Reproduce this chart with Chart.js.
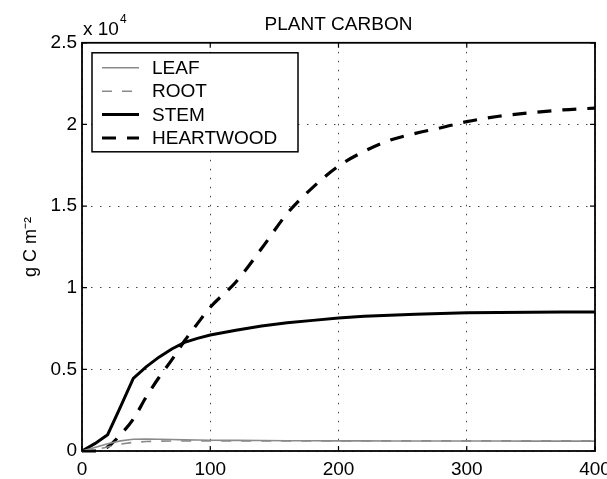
<!DOCTYPE html>
<html>
<head>
<meta charset="utf-8">
<script src="https://cdn.jsdelivr.net/npm/chart.js@4.4.1/dist/chart.umd.min.js"></script>
<style>
  html, body { margin: 0; padding: 0; background: #fff; }
  #wrap { width: 607px; height: 479px; }
</style>
</head>
<body>
<div id="wrap"><canvas id="c" width="607" height="479"></canvas></div>
<script>
// Simulation year
const years = [0, 10, 20, 30, 40, 50, 60, 70, 80, 90, 100, 120, 140, 160, 180, 200, 220, 240, 260, 280, 300, 325, 350, 375, 400];

// Carbon pools, g C m^-2
const leaf      = [0, 220, 450, 620, 720, 730, 720, 700, 680, 670, 660, 650, 640, 630, 625, 620, 620, 615, 615, 610, 610, 610, 605, 605, 605];
const root      = [0, 80, 250, 420, 530, 580, 600, 610, 615, 620, 620, 620, 620, 620, 620, 620, 620, 620, 620, 620, 620, 620, 620, 620, 620];
const stem      = [0, 450, 1000, 2700, 4450, 5150, 5750, 6250, 6650, 6900, 7100, 7400, 7650, 7850, 8000, 8150, 8250, 8320, 8380, 8420, 8460, 8480, 8500, 8510, 8520];
const heartwood = [0, 0, 250, 1000, 1950, 3300, 4500, 5580, 6750, 7800, 8800, 10350, 12400, 14550, 16150, 17450, 18350, 19030, 19450, 19800, 20170, 20500, 20720, 20890, 21000];

const seriesNames = ['LEAF', 'ROOT', 'STEM', 'HEARTWOOD'];
const xTicks = [0, 100, 200, 300, 400];
const yTicks = [0, 5000, 10000, 15000, 20000, 25000];

const FONT = '"Liberation Sans", Arial, Helvetica, sans-serif';

function series(values) {
  return years.map((yr, i) => ({ x: yr, y: values[i] }));
}

const datasets = [
  { label: seriesNames[0], data: series(leaf),      borderColor: '#8a8a8a', borderWidth: 1.6, borderDash: [] },
  { label: seriesNames[1], data: series(root),      borderColor: '#8a8a8a', borderWidth: 1.6, borderDash: [10, 10] },
  { label: seriesNames[2], data: series(stem),      borderColor: '#000',    borderWidth: 3,   borderDash: [] },
  { label: seriesNames[3], data: series(heartwood), borderColor: '#000',    borderWidth: 3.2, borderDash: [14, 11], cubicInterpolationMode: 'monotone' }
].map(d => Object.assign({ pointRadius: 0, tension: 0, fill: false, clip: 3 }, d));

// Box frame, inward ticks, exponent note and boxed legend
const framePlugin = {
  id: 'framePlugin',
  afterDatasetsDraw(chart) {
    const { ctx, chartArea: a, scales } = chart;
    const sx = scales.x, sy = scales.y;
    ctx.save();

    ctx.strokeStyle = '#000';
    ctx.lineWidth = 1.2;
    ctx.setLineDash([]);
    const t = 5;
    ctx.beginPath();
    xTicks.forEach(v => {
      const px = sx.getPixelForValue(v);
      ctx.moveTo(px, a.bottom); ctx.lineTo(px, a.bottom - t);
      ctx.moveTo(px, a.top);    ctx.lineTo(px, a.top + t);
    });
    yTicks.forEach(v => {
      const py = sy.getPixelForValue(v);
      ctx.moveTo(a.left, py);  ctx.lineTo(a.left + t, py);
      ctx.moveTo(a.right, py); ctx.lineTo(a.right - t, py);
    });
    ctx.stroke();

    ctx.lineWidth = 1.8;
    ctx.strokeRect(a.left, a.top, a.right - a.left, a.bottom - a.top);

    // axis multiplier
    ctx.fillStyle = '#000';
    ctx.textBaseline = 'alphabetic';
    ctx.textAlign = 'left';
    ctx.font = '19px ' + FONT;
    ctx.fillText('x 10', a.left + 1, a.top - 8);
    const w = ctx.measureText('x 10').width;
    ctx.font = '12px ' + FONT;
    ctx.fillText('4', a.left + 2 + w, a.top - 20);

    // legend
    const lx = a.left + 10, ly = a.top + 10, lw = 206, lh = 99;
    ctx.fillStyle = '#fff';
    ctx.fillRect(lx, ly, lw, lh);
    ctx.lineWidth = 1.5;
    ctx.strokeStyle = '#000';
    ctx.strokeRect(lx, ly, lw, lh);
    ctx.font = '19px ' + FONT;
    ctx.textBaseline = 'middle';
    chart.data.datasets.forEach((ds, i) => {
      const yy = ly + 15 + i * 23.4;
      ctx.beginPath();
      ctx.strokeStyle = ds.borderColor;
      ctx.lineWidth = ds.borderWidth;
      ctx.setLineDash(ds.borderDash || []);
      ctx.moveTo(lx + 10, yy);
      ctx.lineTo(lx + 47, yy);
      ctx.stroke();
      ctx.setLineDash([]);
      ctx.fillStyle = '#000';
      ctx.fillText(ds.label, lx + 60, yy + 1);
    });

    ctx.restore();
  }
};

new Chart(document.getElementById('c'), {
  type: 'line',
  data: { datasets },
  plugins: [framePlugin],
  options: {
    responsive: false,
    animation: false,
    devicePixelRatio: 1,
    layout: { padding: { left: 0, right: 12, top: 0, bottom: 0 } },
    plugins: {
      legend: { display: false },
      tooltip: { enabled: false },
      title: {
        display: true,
        text: 'PLANT CARBON',
        color: '#000',
        fullSize: false,
        font: { family: FONT, size: 19, weight: 'normal' },
        padding: { top: 13, bottom: 7 }
      }
    },
    scales: {
      x: {
        type: 'linear',
        min: 0, max: 400,
        afterBuildTicks: s => { s.ticks = xTicks.map(v => ({ value: v })); },
        afterFit: s => { s.height = 28; s.paddingLeft = 0; s.paddingRight = 0; },
        grid: { color: '#444', lineWidth: 1, drawTicks: false },
        border: { display: false, dash: [1.5, 7.5] },
        ticks: {
          color: '#000', padding: 7, maxRotation: 0,
          font: { family: FONT, size: 19 },
          callback: v => String(v)
        }
      },
      y: {
        type: 'linear',
        min: 0, max: 25000,
        afterBuildTicks: s => { s.ticks = yTicks.map(v => ({ value: v })); },
        afterFit: s => { s.width = 82; },
        grid: { color: '#444', lineWidth: 1, drawTicks: false },
        border: { display: false, dash: [1.5, 7.5] },
        title: {
          display: true,
          text: 'g C m\u207B\u00B2',
          color: '#000',
          font: { family: FONT, size: 18 },
          padding: { top: 20, bottom: 0 }
        },
        ticks: {
          color: '#000', padding: 5,
          font: { family: FONT, size: 19 },
          callback: v => v === 0 ? '0' : String(v / 10000)
        }
      }
    }
  }
});
</script>
</body>
</html>
